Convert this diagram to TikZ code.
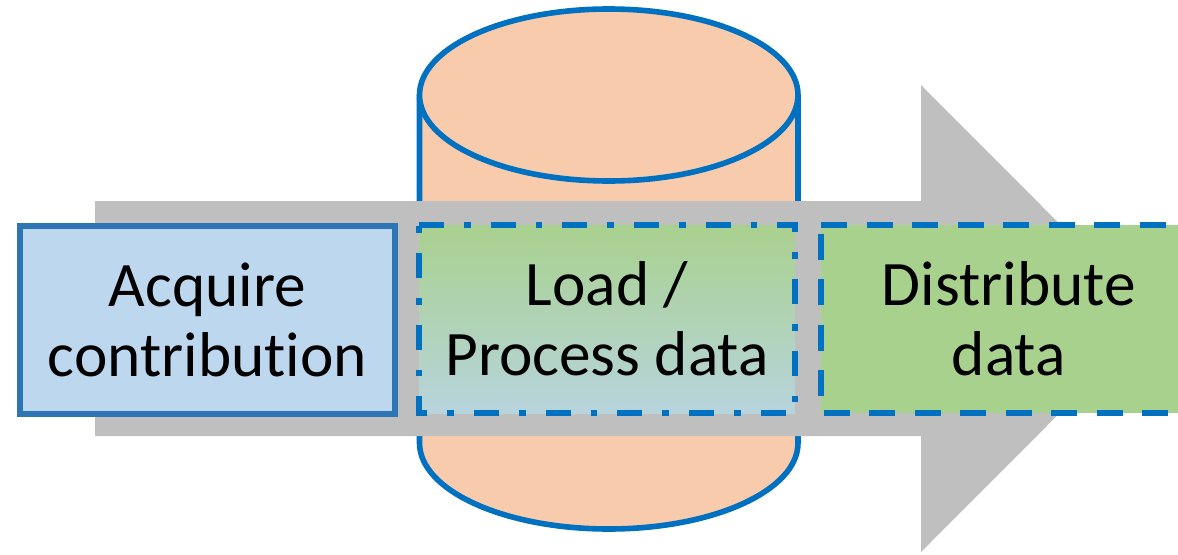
\documentclass[tikz,border=0pt]{standalone}
\usepackage{fontspec}
\setmainfont{Carlito}[Ligatures=NoCommon]
\definecolor{flowgray}{RGB}{191,191,191}
\definecolor{drumfill}{RGB}{248,203,173}
\definecolor{drumline}{RGB}{0,112,192}
\definecolor{stepblue}{RGB}{189,215,238}
\definecolor{stepline}{RGB}{46,117,182}
\definecolor{stepgreen}{RGB}{169,209,142}
\definecolor{steppale}{RGB}{183,212,220}
\tikzset{
    stepbox/.style={outer sep=0pt, inner sep=0pt, minimum height=141pt, align=center,
        font=\fontsize{47.5}{52.5}\selectfont},
    drumedge/.style={draw=drumline, fill=drumfill, line width=4.2pt},
    dashdotline/.style={draw=drumline, line width=4.5pt, dash pattern=on 18.75pt off 15pt on 5pt off 15pt},
    dashline/.style={draw=drumline, line width=4.5pt, dash pattern=on 19.5pt off 14.63pt}
}

\begin{document}
\begin{tikzpicture}[x=0.75pt, y=-0.75pt]
    \useasboundingbox (0, 0) rectangle (1178, 554);
    \clip (0, 0) rectangle (1178, 554);
    % Draw the drum behind everything
    \path[drumedge] (419.5, 95) -- (419.5, 443) arc (180:360:189.25 and -86) -- (798, 95);
    \path[drumedge] (608.75, 95) ellipse (189.25 and 86);
    % Draw the wide arrow
    \fill[flowgray] (95, 201) -- (921, 201) -- (921, 85) -- (1154, 318.5)
        -- (921, 552) -- (921, 436) -- (95, 436) -- cycle;
    % The three steps
    \node[stepbox, minimum width=281.25pt, fill=stepblue, draw=stepline, line width=4.5pt]
        (acquire) at (207.5, 319.5) {Acquire\\contribution};
    \node[stepbox, minimum width=282pt, top color=stepgreen, bottom color=steppale]
        (load) at (607, 319) {Load /\\Process data};
    \node[stepbox, minimum width=281.6pt, fill=stepgreen]
        (distribute) at (1008.75, 319) {Distribute\\data};
    % Outlines start at the top left corner
    \path[dashdotline] (load.north west) -- (load.north east) -- (load.south east)
        -- (load.south west) -- cycle;
    \path[dashline] (distribute.north west) -- (distribute.north east) -- (distribute.south east)
        -- (distribute.south west) -- cycle;
\end{tikzpicture}
\end{document}
